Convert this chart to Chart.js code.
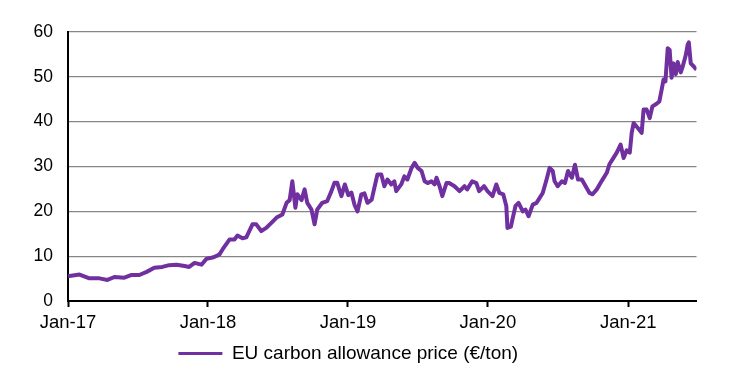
<!DOCTYPE html>
<html>
<head>
<meta charset="utf-8">
<script src="https://cdn.jsdelivr.net/npm/chart.js@4.4.0/dist/chart.umd.min.js"></script>
<style>
  html, body { margin: 0; padding: 0; background: #ffffff; }
  #wrap { width: 731px; height: 373px; position: relative; }
</style>
</head>
<body>
<div id="wrap"><canvas id="c" width="731" height="373"></canvas></div>
<script>
const seriesName = "EU carbon allowance price (\u20AC/ton)";
const tickYears = [2017, 2018, 2019, 2020, 2021];
const tickLabels = ["Jan-17", "Jan-18", "Jan-19", "Jan-20", "Jan-21"];
const yTicks = [0, 10, 20, 30, 40, 50, 60];

const dates = [
  "2017-01-01","2017-01-05","2017-01-31","2017-02-26","2017-03-24","2017-04-14","2017-05-02","2017-05-28",
  "2017-06-16","2017-07-06","2017-07-25","2017-08-14","2017-09-04","2017-09-22","2017-10-11","2017-11-01",
  "2017-11-13","2017-11-27","2017-12-15","2017-12-28",
  "2018-01-13","2018-01-22","2018-01-31","2018-02-08","2018-02-26","2018-03-11","2018-03-19","2018-04-01",
  "2018-04-11","2018-04-27","2018-05-07","2018-05-20","2018-06-02","2018-06-16","2018-06-29","2018-07-14",
  "2018-07-25","2018-08-02","2018-08-09","2018-08-17","2018-08-22","2018-09-02","2018-09-10","2018-09-17",
  "2018-09-28","2018-10-06","2018-10-13","2018-10-26","2018-11-08","2018-11-19","2018-11-27","2018-12-04",
  "2018-12-15","2018-12-24",
  "2019-01-02","2019-01-10","2019-01-18","2019-01-26","2019-02-05","2019-02-13","2019-02-21","2019-03-04",
  "2019-03-11","2019-03-19","2019-03-29","2019-04-06","2019-04-14","2019-04-24","2019-05-02","2019-05-07",
  "2019-05-20","2019-05-28","2019-06-05","2019-06-16","2019-06-24","2019-07-02","2019-07-12","2019-07-20",
  "2019-07-28","2019-08-07","2019-08-15","2019-08-20","2019-08-28","2019-09-04","2019-09-15","2019-09-22",
  "2019-10-06","2019-10-19","2019-11-01","2019-11-08","2019-11-21","2019-12-02","2019-12-09","2019-12-22",
  "2019-12-31",
  "2020-01-13","2020-01-23","2020-01-31","2020-02-10","2020-02-18","2020-02-21","2020-03-01","2020-03-05",
  "2020-03-13","2020-03-21","2020-04-01","2020-04-08","2020-04-16","2020-04-27","2020-05-07","2020-05-15",
  "2020-05-23","2020-06-02","2020-06-10","2020-06-18","2020-06-23","2020-07-01","2020-07-12","2020-07-20",
  "2020-07-28","2020-08-07","2020-08-15","2020-08-23","2020-09-02","2020-09-12","2020-09-22","2020-09-30",
  "2020-10-11","2020-10-24","2020-11-06","2020-11-13","2020-11-21","2020-12-02","2020-12-12","2020-12-20",
  "2020-12-28",
  "2021-01-05","2021-01-10","2021-01-15","2021-01-26","2021-02-05","2021-02-10","2021-02-18","2021-02-26",
  "2021-03-05","2021-03-16","2021-03-23","2021-03-29","2021-04-03","2021-04-08","2021-04-14","2021-04-19",
  "2021-04-24","2021-04-29","2021-05-05","2021-05-10","2021-05-18","2021-05-23","2021-05-31","2021-06-05",
  "2021-06-08","2021-06-13","2021-06-21","2021-06-28"
];

const prices = [
  5.5, 5.6, 5.9, 5.05, 5.05, 4.7, 5.35, 5.2,
  5.8, 5.8, 6.5, 7.4, 7.6, 8.0, 8.1, 7.8,
  7.6, 8.5, 8.1, 9.4,
  9.7, 10.0, 10.4, 11.5, 13.7, 13.7, 14.6, 14.0,
  14.2, 17.1, 17.1, 15.6, 16.3, 17.5, 18.6, 19.3,
  21.9, 22.5, 26.7, 20.8, 23.8, 22.5, 24.9, 21.9,
  20.4, 17.1, 20.4, 21.9, 22.3, 24.5, 26.4, 26.4,
  23.4, 26.0,
  23.6, 24.2, 21.5, 20.0, 23.8, 24.0, 21.9, 22.6,
  25.3, 28.2, 28.2, 25.6, 27.1, 26.0, 26.7, 24.5,
  26.0, 27.8, 27.1, 29.7, 30.8, 29.7, 29.0, 26.7,
  26.3, 26.7, 26.0, 27.5, 25.6, 23.4, 26.3, 26.3,
  25.6, 24.5, 25.6, 24.9, 26.7, 26.3, 24.5, 25.6,
  24.5,
  23.4, 26.0, 24.1, 23.8, 21.2, 16.3, 16.6, 18.2,
  21.2, 21.9, 20.0, 20.4, 18.9, 21.5, 21.9, 23.0,
  24.1, 27.1, 29.7, 29.0, 26.7, 25.6, 26.7, 26.3,
  29.0, 27.5, 30.4, 27.1, 27.1, 25.6, 24.1, 23.8,
  24.9, 26.8, 28.6, 30.5, 31.6, 33.1, 34.9, 31.9,
  33.6,
  33.1, 37.5, 39.7, 38.6, 37.5, 42.7, 42.7, 40.8,
  43.4, 44.0, 44.5, 47.1, 49.4, 49.0, 56.4, 56.0,
  49.8, 53.0, 50.6, 53.3, 51.0, 52.3, 54.8, 57.2,
  57.7, 53.0, 52.3, 51.6
];

const points = dates.map((d, i) => ({ x: Date.parse(d), y: prices[i] }));
const xMin = Date.UTC(tickYears[0], 0, 1);
const xMax = Date.parse(dates[dates.length - 1]);

new Chart(document.getElementById('c'), {
  type: 'line',
  data: {
    datasets: [{
      label: seriesName,
      data: points,
      borderColor: '#7030A0',
      backgroundColor: '#7030A0',
      borderWidth: 4,
      borderJoinStyle: 'round',
      pointRadius: 0,
      tension: 0,
      fill: false
    }]
  },
  options: {
    responsive: false,
    animation: false,
    devicePixelRatio: 1,
    layout: { padding: { left: 0, right: 34.5, top: 32, bottom: 0 } },
    plugins: {
      tooltip: { enabled: false },
      legend: {
        display: true,
        position: 'bottom',
        labels: {
          boxWidth: 44,
          boxHeight: 3,
          padding: 9,
          color: '#000000',
          font: { family: 'Liberation Sans, Arial, sans-serif', size: 19 },
          generateLabels: () => [{
            text: seriesName,
            fillStyle: '#7030A0',
            strokeStyle: '#7030A0',
            lineWidth: 0,
            hidden: false,
            datasetIndex: 0
          }]
        }
      }
    },
    scales: {
      x: {
        type: 'linear',
        min: xMin,
        max: xMax,
        afterBuildTicks: (scale) => {
          scale.ticks = tickYears.map(y => ({ value: Date.UTC(y, 0, 1) }));
        },
        afterFit: (scale) => { scale.height = 34; },
        ticks: {
          autoSkip: false,
          maxRotation: 0,
          padding: 5,
          color: '#000000',
          font: { family: 'Liberation Sans, Arial, sans-serif', size: 18.5 },
          callback: (v) => {
            const idx = tickYears.findIndex(y => Date.UTC(y, 0, 1) === v);
            return idx >= 0 ? tickLabels[idx] : '';
          }
        },
        grid: {
          drawOnChartArea: false,
          drawTicks: true,
          tickLength: 6,
          tickWidth: 2,
          tickColor: '#000000'
        },
        border: { display: true, color: '#000000', width: 2 }
      },
      y: {
        min: 0,
        max: 60,
        afterBuildTicks: (scale) => {
          scale.ticks = yTicks.map(v => ({ value: v }));
        },
        afterFit: (scale) => { scale.width = 68; },
        ticks: {
          padding: 15,
          color: '#000000',
          font: { family: 'Liberation Sans, Arial, sans-serif', size: 17.5 }
        },
        grid: {
          color: '#868686',
          lineWidth: 1.3,
          drawTicks: false
        },
        border: { display: true, color: '#000000', width: 2 }
      }
    }
  }
});
</script>
</body>
</html>
